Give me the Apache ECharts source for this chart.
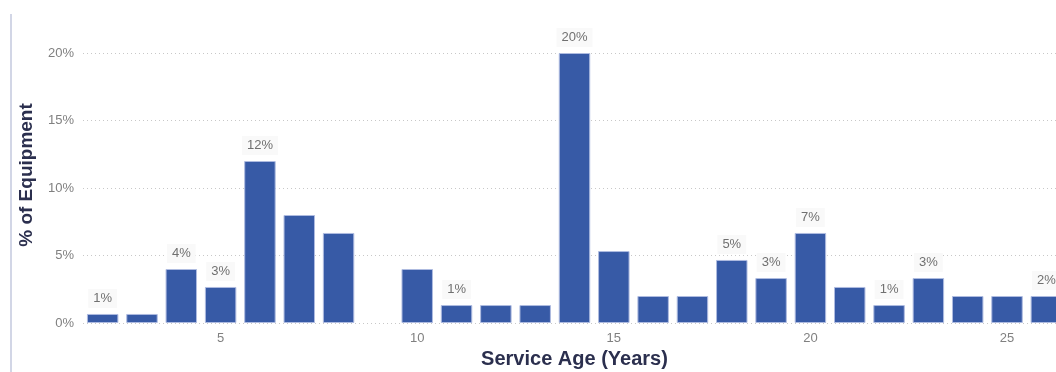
<!DOCTYPE html>
<html>
<head>
<meta charset="utf-8">
<script src="https://cdn.jsdelivr.net/npm/echarts@6/dist/echarts.min.js"></script>
<style>
  html, body { margin: 0; padding: 0; background: #ffffff; overflow: hidden; }
  #chart { width: 1056px; height: 372px; }
</style>
</head>
<body>
<div id="chart"></div>
<script>
// Service age in years (one bar per age)
const ages = [2, 3, 4, 5, 6, 7, 8, 9, 10, 11, 12, 13, 14, 15, 16, 17, 18, 19, 20, 21, 22, 23, 24, 25, 26];
// Share of equipment at each age, in percent
const shares = [0.67, 0.67, 4.0, 2.67, 12.0, 8.0, 6.67, 0, 4.0, 1.33, 1.33, 1.33, 20.0, 5.33, 2.0, 2.0, 4.67, 3.33, 6.67, 2.67, 1.33, 3.33, 2.0, 2.0, 2.0];
// Ages whose bars carry a value label
const labelledAges = [2, 4, 5, 6, 11, 14, 18, 19, 20, 22, 23, 26];
// Ages shown on the horizontal axis
const xTickAges = [5, 10, 15, 20, 25];
// Vertical axis ticks (percent)
const yTicks = [0, 5, 10, 15, 20];

const FONT = '"Liberation Sans", Arial, sans-serif';
const BAR = '#375aa6';
const TITLE = '#2b2f4e';

const chart = echarts.init(document.getElementById('chart'), null, { renderer: 'canvas', width: 1056, height: 372 });

const seriesData = ages.map((a, i) => ({
  value: shares[i],
  label: { show: labelledAges.includes(a) },
  // an empty age gets no outline so nothing shows on the baseline
  itemStyle: shares[i] === 0 ? { borderWidth: 0 } : undefined
}));

chart.setOption({
  animation: false,
  backgroundColor: '#ffffff',
  grid: { left: 83, right: -10, top: 53, bottom: 49, containLabel: false, outerBoundsMode: 'none' },
  graphic: [
    {
      type: 'line',
      shape: { x1: 11, y1: 14, x2: 11, y2: 372 },
      style: { stroke: '#d2d6e6', lineWidth: 2 },
      silent: true
    },
    {
      type: 'text',
      x: 27, y: 175,
      rotation: Math.PI / 2,
      style: {
        text: '% of Equipment',
        fill: TITLE,
        font: 'bold 19px ' + FONT,
        align: 'center',
        verticalAlign: 'middle'
      },
      silent: true
    }
  ],
  xAxis: {
    type: 'category',
    data: ages.map(String),
    boundaryGap: true,
    axisLine: { show: false },
    axisTick: { show: false },
    axisLabel: {
      interval: (idx, val) => xTickAges.includes(Number(val)),
      color: '#808080',
      fontFamily: FONT,
      fontSize: 13,
      margin: 9
    },
    name: 'Service Age (Years)',
    nameLocation: 'middle',
    nameGap: 26,
    nameTextStyle: { color: TITLE, fontFamily: FONT, fontSize: 20, fontWeight: 'bold' }
  },
  yAxis: {
    type: 'value',
    min: yTicks[0],
    max: yTicks[yTicks.length - 1],
    interval: yTicks[1] - yTicks[0],
    axisLine: { show: false },
    axisTick: { show: false },
    axisLabel: {
      formatter: v => v + '%',
      color: '#808080',
      fontFamily: FONT,
      fontSize: 13,
      margin: 9
    },
    splitLine: {
      show: true,
      lineStyle: { color: '#c8c8c8', width: 1, type: [1, 3] }
    }
  },
  series: [{
    type: 'bar',
    data: seriesData,
    barWidth: '80%',
    itemStyle: { color: BAR, borderColor: '#aebbe0', borderWidth: 1 },
    label: {
      position: 'top',
      distance: 6,
      formatter: p => Math.round(p.value) + '%',
      color: '#707070',
      fontFamily: FONT,
      fontSize: 13,
      backgroundColor: '#f9f9f9',
      padding: [3, 5]
    }
  }]
});
</script>
</body>
</html>
